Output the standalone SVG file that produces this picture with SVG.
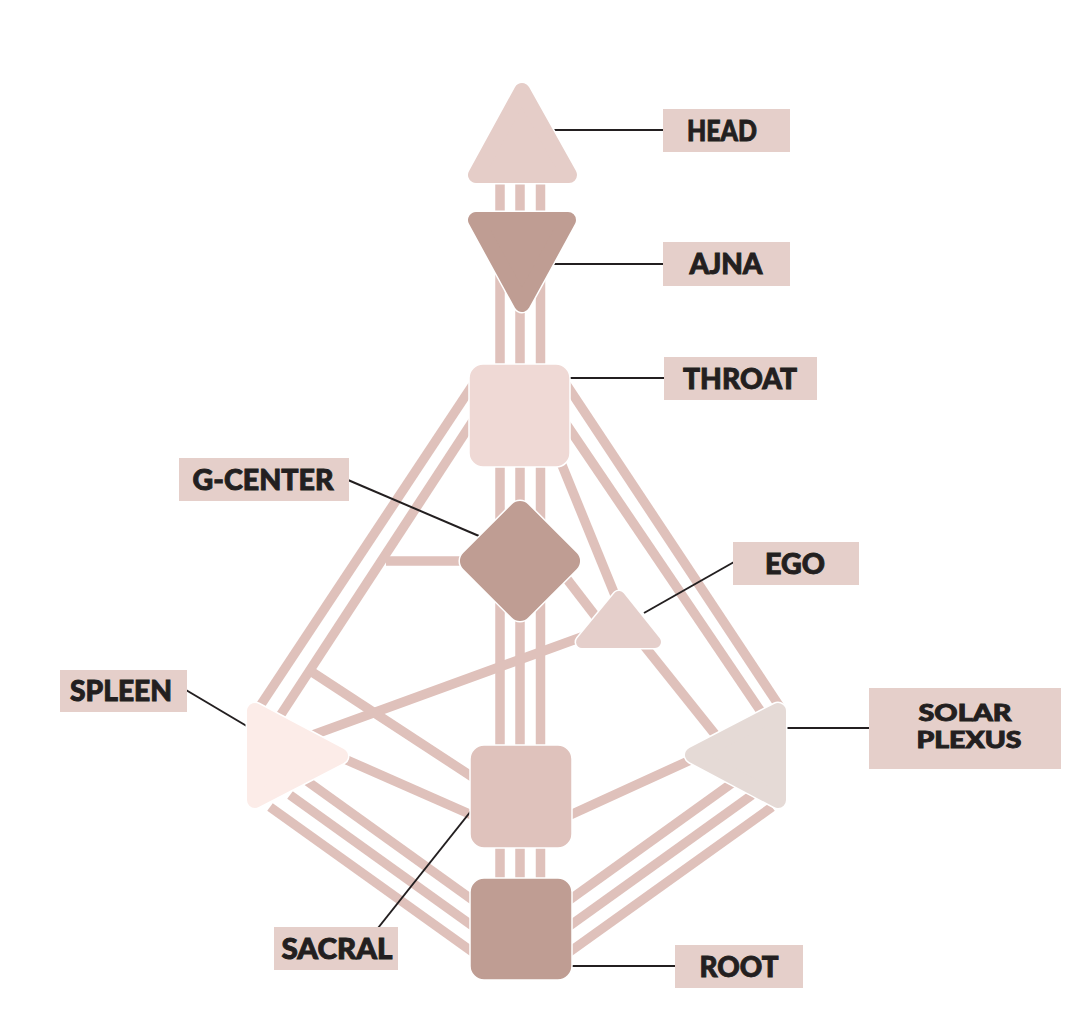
<svg xmlns="http://www.w3.org/2000/svg" width="1071" height="1020" viewBox="0 0 1071 1020">
<style>
.ch{stroke:#dfc1bb;stroke-width:9.5;fill:none;stroke-linecap:butt}
.ld{stroke:#231f20;stroke-width:2;fill:none}
.lb{fill:#e5cfca}
.tx{font-family:Lato,"Open Sans","Liberation Sans",sans-serif;font-weight:900;font-size:28px;fill:#231f20;stroke:#231f20;stroke-width:0.9;text-anchor:middle}
.tx2{font-size:22.5px}
.halo{fill:#ffffff;stroke:#ffffff;stroke-width:19;stroke-linejoin:round}
.rt{stroke-width:16;stroke-linejoin:round}
.sq{stroke:#ffffff;stroke-width:1.5}
</style>
<rect width="1071" height="1020" fill="#ffffff"/>
<g id="connectors">
  <g id="channels">
    <line class="ch" x1="500" y1="175" x2="500" y2="900"/>
    <line class="ch" x1="520" y1="175" x2="520" y2="900"/>
    <line class="ch" x1="540.5" y1="175" x2="540.5" y2="900"/>
    <line class="ch" x1="480" y1="374" x2="258" y2="709"/>
    <line class="ch" x1="480" y1="410" x2="278" y2="719"/>
    <line class="ch" x1="386" y1="561" x2="470" y2="561"/>
    <line class="ch" x1="560" y1="375" x2="780" y2="707"/>
    <line class="ch" x1="560" y1="415" x2="768" y2="722"/>
    <line class="ch" x1="555" y1="448" x2="617" y2="600"/>
    <line class="ch" x1="560" y1="570" x2="600" y2="622"/>
    <line class="ch" x1="630" y1="628" x2="718" y2="738"/>
    <line class="ch" x1="310" y1="736" x2="590" y2="634"/>
    <line class="ch" x1="312" y1="672" x2="474" y2="778"/>
    <line class="ch" x1="340" y1="757" x2="474" y2="816"/>
    <line class="ch" x1="300" y1="776" x2="474" y2="901"/>
    <line class="ch" x1="290" y1="795" x2="474" y2="927"/>
    <line class="ch" x1="270" y1="807" x2="474" y2="953"/>
    <line class="ch" x1="568" y1="816" x2="695" y2="758"/>
    <line class="ch" x1="568" y1="901" x2="742" y2="776"/>
    <line class="ch" x1="568" y1="927" x2="752" y2="795"/>
    <line class="ch" x1="568" y1="953" x2="772" y2="807"/>
  </g>
  <g id="leaders">
    <line class="ld" x1="552" y1="130" x2="664" y2="130"/>
    <line class="ld" x1="553" y1="264" x2="664" y2="264"/>
    <line class="ld" x1="570" y1="378" x2="665" y2="378"/>
    <line class="ld" x1="348" y1="480" x2="479" y2="536"/>
    <line class="ld" x1="644" y1="613" x2="734" y2="562"/>
    <line class="ld" x1="186" y1="690" x2="250" y2="728"/>
    <line class="ld" x1="784" y1="728" x2="870" y2="728"/>
    <line class="ld" x1="378" y1="928" x2="471" y2="811"/>
    <line class="ld" x1="572" y1="966" x2="676" y2="966"/>
  </g>
</g>
<g id="head">
  <polygon class="halo" points="522,91 476,175 569,175"/>
  <polygon class="rt" fill="#e5cdc8" stroke="#e5cdc8" points="522,91 476,175 569,175"/>
  <rect class="lb" x="663" y="109" width="127" height="43"/>
  <text class="tx" x="722" y="141" textLength="70" lengthAdjust="spacingAndGlyphs">HEAD</text>
</g>
<g id="ajna">
  <polygon class="halo" points="476,220 568,220 522,304"/>
  <polygon class="rt" fill="#bf9d93" stroke="#bf9d93" points="476,220 568,220 522,304"/>
  <rect class="lb" x="663" y="242" width="127" height="44"/>
  <text class="tx" x="726" y="274" textLength="73" lengthAdjust="spacingAndGlyphs">AJNA</text>
</g>
<g id="throat">
  <rect class="sq" x="469" y="364" width="101" height="103" rx="14" fill="#efd9d5"/>
  <rect class="lb" x="664" y="357" width="153" height="43"/>
  <text class="tx" x="740" y="389" textLength="114" lengthAdjust="spacingAndGlyphs">THROAT</text>
</g>
<g id="g-center">
  <rect class="sq" x="473.5" y="514.5" width="93" height="93" rx="12" fill="#bf9d93" transform="rotate(45 520 561)"/>
  <rect class="lb" x="179" y="458" width="170" height="43"/>
  <text class="tx" x="263" y="490" textLength="141" lengthAdjust="spacingAndGlyphs">G-CENTER</text>
</g>
<g id="ego">
  <polygon class="halo" points="619,597 582,642 655,642" style="stroke-width:15"/>
  <polygon fill="#e5cfcb" stroke="#e5cfcb" stroke-width="12" stroke-linejoin="round" points="619,597 582,642 655,642"/>
  <rect class="lb" x="733" y="542" width="126" height="43"/>
  <text class="tx" x="795" y="574" textLength="60" lengthAdjust="spacingAndGlyphs">EGO</text>
</g>
<g id="spleen">
  <polygon class="halo" points="255,711 255,800 340,756"/>
  <polygon class="rt" fill="#fcece8" stroke="#fcece8" points="255,711 255,800 340,756"/>
  <rect class="lb" x="60" y="670" width="127" height="42"/>
  <text class="tx" x="121" y="701" textLength="102" lengthAdjust="spacingAndGlyphs">SPLEEN</text>
</g>
<g id="solar-plexus">
  <polygon class="halo" points="778,711 778,800 693,755"/>
  <polygon class="rt" fill="#e5dad6" stroke="#e5dad6" points="778,711 778,800 693,755"/>
  <rect class="lb" x="869" y="688" width="192" height="81"/>
  <text class="tx tx2" x="965" y="721" textLength="93" lengthAdjust="spacingAndGlyphs">SOLAR</text>
  <text class="tx tx2" x="969" y="748" textLength="105" lengthAdjust="spacingAndGlyphs">PLEXUS</text>
</g>
<g id="sacral">
  <rect class="sq" x="470" y="745" width="102" height="103" rx="14" fill="#dfc2bc"/>
  <rect class="lb" x="274" y="927" width="124" height="43"/>
  <text class="tx" x="337" y="959" textLength="111" lengthAdjust="spacingAndGlyphs">SACRAL</text>
</g>
<g id="root">
  <rect class="sq" x="470" y="878" width="102" height="102" rx="14" fill="#bf9d93"/>
  <rect class="lb" x="675" y="945" width="128" height="43"/>
  <text class="tx" x="739" y="977" textLength="79" lengthAdjust="spacingAndGlyphs">ROOT</text>
</g>
</svg>
